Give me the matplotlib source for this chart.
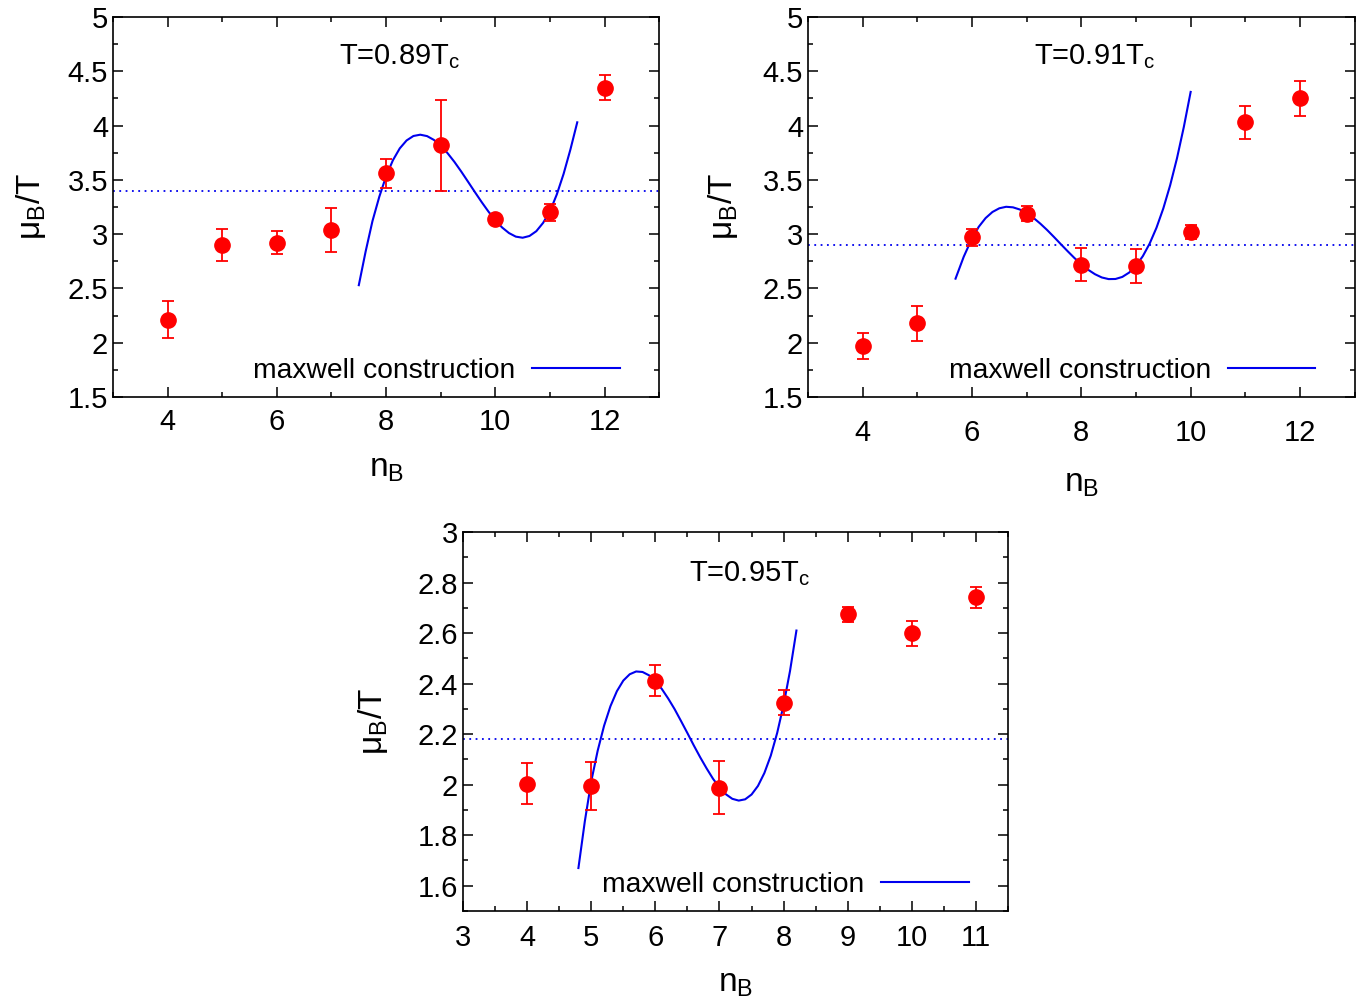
import matplotlib
matplotlib.use('Agg')
import matplotlib.pyplot as plt
from matplotlib.ticker import MultipleLocator, FormatStrFormatter

plt.rcParams['font.family'] = ['Liberation Sans', 'DejaVu Sans']
plt.rcParams['mathtext.fontset'] = 'custom'
plt.rcParams['mathtext.rm'] = 'Liberation Sans'
plt.rcParams['mathtext.it'] = 'Liberation Sans:italic'

# T = 0.89 Tc
nb1 = [4, 5, 6, 7, 8, 9, 10, 11, 12]
mu1 = [2.21, 2.90, 2.92, 3.04, 3.56, 3.82, 3.14, 3.20, 4.35]
err1 = [0.17, 0.15, 0.105, 0.20, 0.135, 0.42, 0.02, 0.077, 0.115]
fit_x1 = [7.5, 7.625, 7.75, 7.875, 8.0, 8.125, 8.25, 8.375, 8.5, 8.625,
          8.75, 8.875, 9.0, 9.125, 9.25, 9.375, 9.5, 9.625, 9.75, 9.875,
          10.0, 10.125, 10.25, 10.375, 10.5, 10.625, 10.75, 10.875, 11.0,
          11.125, 11.25, 11.375, 11.5]
fit_y1 = [2.53, 2.84, 3.12, 3.344, 3.534, 3.681, 3.79, 3.863, 3.904, 3.916,
          3.903, 3.868, 3.814, 3.746, 3.666, 3.577, 3.483, 3.388, 3.295, 3.207,
          3.128, 3.061, 3.010, 2.977, 2.967, 2.983, 3.027, 3.104, 3.21,
          3.365, 3.555, 3.78, 4.03]
maxwell1 = 3.40

# T = 0.91 Tc
nb2 = [4, 5, 6, 7, 8, 9, 10, 11, 12]
mu2 = [1.97, 2.18, 2.97, 3.19, 2.72, 2.71, 3.02, 4.03, 4.25]
err2 = [0.118, 0.16, 0.077, 0.072, 0.156, 0.156, 0.068, 0.152, 0.158]
fit_x2 = [5.7, 5.85, 6.0, 6.125, 6.25, 6.375, 6.5, 6.625, 6.75, 6.875, 7.0,
          7.125, 7.25, 7.375, 7.5, 7.625, 7.75, 7.875, 8.0, 8.125, 8.25,
          8.375, 8.5, 8.625, 8.75, 8.875, 9.0, 9.125, 9.25, 9.375, 9.5,
          9.625, 9.75, 9.875, 10.0]
fit_y2 = [2.59, 2.792, 2.960, 3.068, 3.148, 3.204, 3.238, 3.252, 3.247, 3.227,
          3.194, 3.150, 3.097, 3.038, 2.974, 2.908, 2.843, 2.780, 2.723, 2.672,
          2.631, 2.601, 2.586, 2.587, 2.606, 2.646, 2.709, 2.797, 2.913, 3.059,
          3.237, 3.450, 3.699, 3.987, 4.31]
maxwell2 = 2.90

# T = 0.95 Tc
nb3 = [4, 5, 6, 7, 8, 9, 10, 11]
mu3 = [2.004, 1.993, 2.412, 1.988, 2.325, 2.674, 2.599, 2.742]
err3 = [0.082, 0.095, 0.06, 0.106, 0.049, 0.03, 0.05, 0.041]
fit_x3 = [4.8, 4.9, 5.0, 5.1, 5.2, 5.3, 5.4, 5.5, 5.6, 5.7, 5.8, 5.9, 6.0,
          6.1, 6.2, 6.3, 6.4, 6.5, 6.6, 6.7, 6.8, 6.9, 7.0, 7.1, 7.2, 7.3,
          7.4, 7.5, 7.6, 7.7, 7.8, 7.9, 8.0, 8.1, 8.2]
fit_y3 = [1.67, 1.855, 2.013, 2.134, 2.233, 2.311, 2.370, 2.412, 2.437, 2.448,
          2.446, 2.433, 2.410, 2.379, 2.341, 2.299, 2.252, 2.204, 2.155, 2.108,
          2.064, 2.023, 1.989, 1.962, 1.944, 1.937, 1.942, 1.961, 1.995, 2.046,
          2.115, 2.205, 2.316, 2.450, 2.61]
maxwell3 = 2.18

FS = 21
LFS = 24


def panel(ax, nb, mu, err, fx, fy, mline, title, xlim, ylim, xmaj, xmin,
          ymaj, ymin, xpad, xlabpad, ylabpad, ty):
    ax.errorbar(nb, mu, yerr=err, fmt='o', color='red', ms=11,
                elinewidth=1.3, capsize=4, capthick=1.3, zorder=3)
    ax.plot(fx, fy, color='#0000ee', lw=1.5, label='maxwell construction')
    ax.axhline(mline, color='#0000ee', lw=1.3, ls=(0, (1, 2.5)))
    ax.set_xlim(*xlim)
    ax.set_ylim(*ylim)
    ax.xaxis.set_major_locator(MultipleLocator(xmaj))
    ax.xaxis.set_minor_locator(MultipleLocator(xmin))
    ax.yaxis.set_major_locator(MultipleLocator(ymaj))
    ax.yaxis.set_minor_locator(MultipleLocator(ymin))
    ax.xaxis.set_major_formatter(FormatStrFormatter('%g'))
    ax.yaxis.set_major_formatter(FormatStrFormatter('%g'))
    ax.tick_params(which='both', direction='in', top=True, right=True,
                   labelsize=FS, width=1.1)
    ax.tick_params(which='major', length=7)
    ax.tick_params(which='minor', length=3.5)
    ax.tick_params(axis='x', pad=xpad)
    for s in ax.spines.values():
        s.set_linewidth(1.2)
    ax.set_xlabel(r'n$_\mathrm{B}$', fontsize=LFS, labelpad=xlabpad)
    ax.set_ylabel(r'μ$_\mathrm{B}$/T', fontsize=LFS, labelpad=ylabpad)
    ax.text(0.525, ty, title, transform=ax.transAxes, fontsize=FS,
            ha='center', va='center')
    ax.legend(loc='lower right', bbox_to_anchor=(0.928, 0.035), frameon=False,
              markerfirst=False, fontsize=20.3, handlelength=3.1,
              handletextpad=0.6, borderaxespad=0, borderpad=0)


fig = plt.figure(figsize=(13.67, 10), dpi=100)
ax1 = fig.add_axes([0.0827, 0.603, 0.3995, 0.380])
ax2 = fig.add_axes([0.591, 0.603, 0.4, 0.380])
ax3 = fig.add_axes([0.3387, 0.089, 0.3987, 0.379])

panel(ax1, nb1, mu1, err1, fit_x1, fit_y1, maxwell1, r'T=0.89T$_\mathrm{c}$',
      (3, 13), (1.5, 5), 2, 1, 0.5, 0.25, 8, 12, 14, 0.895)
panel(ax2, nb2, mu2, err2, fit_x2, fit_y2, maxwell2, r'T=0.91T$_\mathrm{c}$',
      (3, 13), (1.5, 5), 2, 1, 0.5, 0.25, 16, 15, 16, 0.895)
panel(ax3, nb3, mu3, err3, fit_x3, fit_y3, maxwell3, r'T=0.95T$_\mathrm{c}$',
      (3, 11.5), (1.5, 3), 1, 0.5, 0.2, 0.1, 9, 12, 20, 0.89)

fig.savefig('out.png', dpi=100)
